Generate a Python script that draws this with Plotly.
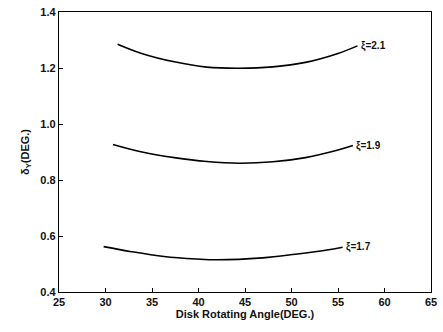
import plotly.graph_objects as go

x_21 = [31.3, 33.8, 37.4, 40.9, 44.4, 48.0, 51.5, 55.0, 57.1]
y_21 = [1.285, 1.253, 1.222, 1.203, 1.199, 1.204, 1.220, 1.252, 1.279]
x_19 = [30.8, 33.8, 37.4, 40.9, 44.4, 48.0, 51.5, 55.0, 56.6]
y_19 = [0.927, 0.901, 0.880, 0.866, 0.860, 0.865, 0.880, 0.907, 0.923]
x_17 = [29.8, 32.8, 36.3, 39.8, 42.0, 46.9, 50.4, 54.0, 55.5]
y_17 = [0.562, 0.544, 0.527, 0.518, 0.515, 0.522, 0.535, 0.551, 0.560]
labels = ["ξ=2.1", "ξ=1.9", "ξ=1.7"]

xticks = [25, 30, 35, 40, 45, 50, 55, 60, 65]
yticks = [0.4, 0.6, 0.8, 1.0, 1.2, 1.4]
ytick_text = ["0.4", "0.6", "0.8", "1.0", "1.2", "1.4"]

fig = go.Figure()
for xs, ys, lab in [(x_21, y_21, labels[0]), (x_19, y_19, labels[1]), (x_17, y_17, labels[2])]:
    fig.add_trace(go.Scatter(x=xs, y=ys, mode="lines",
                             line=dict(color="black", width=1.6, shape="spline", smoothing=1.0),
                             showlegend=False, hoverinfo="skip"))
    fig.add_annotation(x=xs[-1], y=ys[-1], text="<b>" + lab + "</b>", showarrow=False,
                       xanchor="left", yanchor="middle", xshift=1,
                       font=dict(family="Liberation Sans, Arial", size=10, color="#111"))

axis_font = dict(family="Liberation Sans, Arial", size=11, color="#111")
fig.update_xaxes(range=[25, 65], tickvals=xticks, ticktext=["<b>%d</b>" % v for v in xticks],
                 ticks="inside", ticklen=4, tickwidth=1, tickcolor="black", ticklabeloverflow="allow",
                 showline=True, linecolor="black", linewidth=1.3, mirror=True, showgrid=False, zeroline=False,
                 tickfont=axis_font,
                 title=dict(text="<b>Disk Rotating Angle(DEG.)</b>", font=axis_font, standoff=2))
fig.update_yaxes(range=[0.4, 1.4], tickvals=yticks, ticktext=["<b>%s</b>" % t for t in ytick_text],
                 ticks="inside", ticklen=4, tickwidth=1,
                 tickcolor="black", showline=True, linecolor="black", linewidth=1.3, mirror=True, showgrid=False,
                 zeroline=False, tickfont=axis_font,
                 title=dict(text="<b>δ<sub>Y</sub>(DEG.)</b>", font=axis_font, standoff=8))
fig.update_layout(width=443, height=332, margin=dict(l=59, r=6, t=12, b=40),
                  paper_bgcolor="white", plot_bgcolor="white")
fig.write_html("out.html")
